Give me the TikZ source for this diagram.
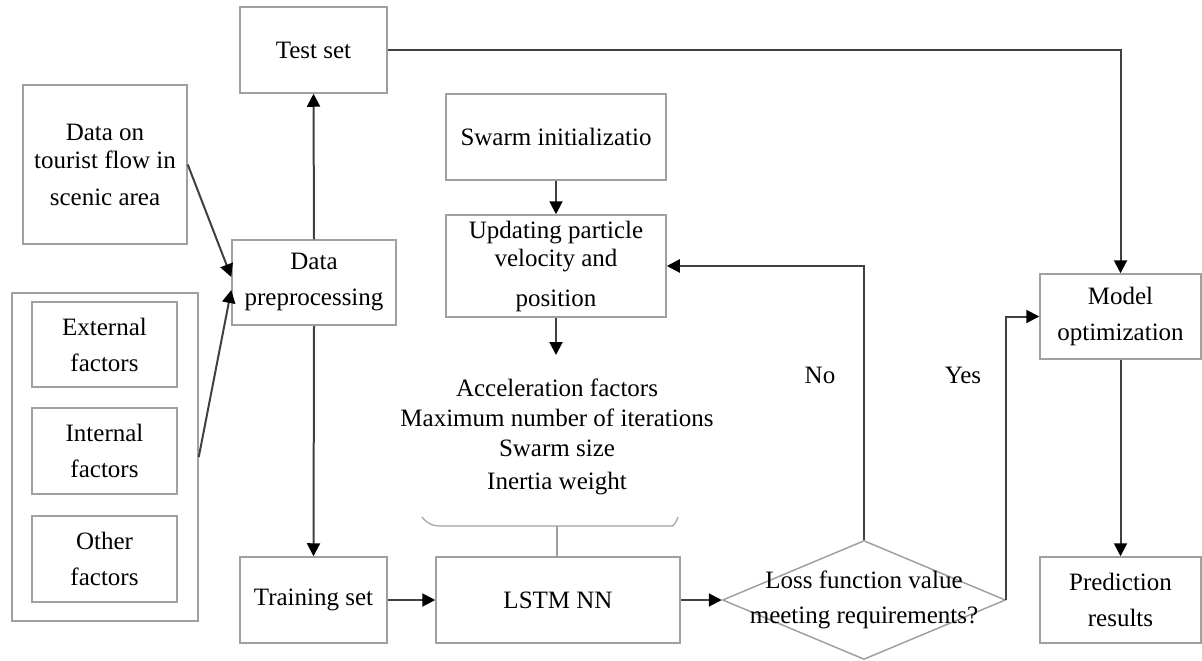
\documentclass[tikz,border=0pt]{standalone}
\usepackage{fontspec}
\setmainfont{Liberation Serif}
\usetikzlibrary{shapes.geometric, arrows.meta, calc}
\definecolor{boxline}{HTML}{A0A0A0}
\definecolor{flowline}{HTML}{404040}
\tikzstyle{block} = [rectangle, draw=boxline, line width=1.5pt, align=center, inner sep=0pt, font=\fontsize{25}{36}\selectfont]
\tikzstyle{decision} = [diamond, draw=boxline, line width=1.5pt, minimum width=283pt, minimum height=119pt, inner sep=0pt]
\tikzstyle{txt} = [align=center, inner sep=0pt, font=\fontsize{25}{30}\selectfont]
\tikzstyle{arrow} = [line width=2pt, draw=flowline, -{Triangle[length=13pt,width=13pt,color=black]}]
\tikzstyle{bracket} = [line width=1.2pt, draw=boxline]

\begin{document}
\begin{tikzpicture}[x=1pt, y=-1pt]
\useasboundingbox (0,0) rectangle (1202,661);
% input side
\node (test) [block, minimum width=147pt, minimum height=86pt] at (313.5,50) {Test set};
\node (tourist) [block, minimum width=164pt, minimum height=159pt] at (105,164.5) {Data on\\[-8pt] tourist flow in\\[1pt] scenic area};
\node (factors) [block, minimum width=186pt, minimum height=328pt] at (105,457) {};
\node (external) [block, minimum width=145pt, minimum height=85pt] at (104.5,344.5) {External\\ factors};
\node (internal) [block, minimum width=145pt, minimum height=86pt] at (104.5,451) {Internal\\ factors};
\node (other) [block, minimum width=145pt, minimum height=86pt] at (104.5,559) {Other\\ factors};
\node (prep) [block, minimum width=164pt, minimum height=85pt] at (314,282.5) {Data\\ preprocessing};
\node (train) [block, minimum width=147pt, minimum height=86pt] at (313.5,600) {Training set};
% swarm part
\node (swarm) [block, minimum width=220pt, minimum height=86pt] at (556,137) {Swarm initializatio};
\node (update) [block, minimum width=220pt, minimum height=102pt] at (556,266) {Updating particle\\[-8pt] velocity and\\[4pt] position};
\coordinate (paramtop) at (556,355);
\node (params) [txt] at (557,437) {Acceleration factors\\ Maximum number of iterations\\ Swarm size\\[3pt] Inertia weight};
\draw [bracket] (422,517) .. controls (428,524) and (432,526) .. (442,526) -- (672,526)
  .. controls (674,526) and (676,522) .. (678,517);
\coordinate (brace) at (557,526);
\node (lstm) [block, minimum width=244pt, minimum height=86pt] at (558,600) {LSTM NN};
% decision and output
\node (loss) [decision] at (864,600) {};
\node (losstext) [txt, font=\fontsize{25}{35}\selectfont] at (loss.center) {Loss function value\\ meeting requirements?};
\node (model) [block, minimum width=161pt, minimum height=85pt] at (1120.5,316.5) {Model\\ optimization};
\node (pred) [block, minimum width=161pt, minimum height=86pt] at (1120.5,600) {Prediction\\ results};
\node (no) [txt] at (820,375) {No};
\node (yes) [txt] at (963,375) {Yes};
% connectors
\draw [arrow] (tourist.east) -- ($(prep.west)+(0,-5.5)$);
\draw [arrow] (factors.east) -- ($(prep.west)+(0,7.5)$);
\draw [arrow] (prep.north) -- (test.south);
\draw [arrow] (prep.south) -- (train.north);
\draw [arrow] (train.east) -- (lstm.west);
\draw [arrow] (lstm.east) -- (loss.west);
\draw [arrow] (swarm.south) -- (update.north);
\draw [arrow] (update.south) -- (paramtop);
\draw [bracket] (brace) -- (brace |- lstm.north);
\draw [arrow] (loss.north) |- (update.east);
\draw [arrow] (loss.east) |- (model.west);
\draw [arrow] (test.east) -| (model.north);
\draw [arrow] (model.south) -- (pred.north);
\end{tikzpicture}
\end{document}
